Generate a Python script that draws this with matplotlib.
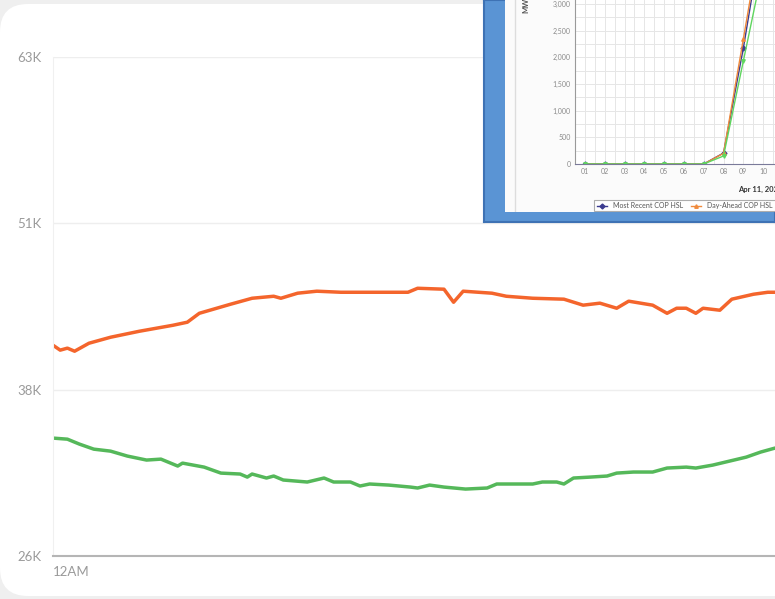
import matplotlib
matplotlib.use("Agg")
import matplotlib.pyplot as plt
from matplotlib.patches import FancyBboxPatch
from matplotlib.transforms import IdentityTransform

# main chart data (minutes after midnight, MW)
orange_min = [0, 3, 6, 9, 15, 24, 36, 50, 56, 61, 74, 83, 92, 95, 102, 110, 120, 133,
              148, 152, 163, 167, 171, 183, 189, 200, 213, 221, 228, 235, 240, 250,
              256, 260, 264, 268, 271, 278, 283, 292, 298, 301]
orange_val = [41590, 41220, 41370, 41140, 41740, 42190, 42640, 43090, 43320, 43990,
              44670, 45120, 45270, 45120, 45500, 45650, 45570, 45570, 45570, 45870,
              45800, 44820, 45650, 45500, 45270, 45120, 45050, 44600, 44750, 44370,
              44900, 44600, 43990, 44370, 44370, 43990, 44370, 44220, 45050, 45420,
              45570, 45570]

green_min = [0, 6, 11, 17, 24, 31, 39, 45, 52, 54, 63, 70, 78, 81, 83, 89, 92, 96, 106,
             113, 117, 124, 128, 132, 140, 149, 152, 157, 163, 172, 181, 185, 200, 204,
             210, 213, 217, 224, 231, 235, 242, 250, 256, 264, 268, 275, 282, 289, 295, 301]
green_val = [34610, 34530, 34160, 33780, 33630, 33260, 32960, 33030, 32510, 32730,
             32430, 31980, 31910, 31680, 31910, 31610, 31760, 31460, 31310, 31610,
             31310, 31310, 31010, 31160, 31080, 30930, 30860, 31080, 30930, 30780,
             30860, 31160, 31160, 31310, 31310, 31160, 31610, 31680, 31760, 31980,
             32060, 32060, 32360, 32430, 32360, 32580, 32880, 33180, 33560, 33860]

y_ticks = [25750, 38250, 50750, 63250]
y_labels = ["26K", "38K", "51K", "63K"]

# pasted screenshot chart data
hours = [1, 2, 3, 4, 5, 6, 7, 8, 9, 10]
hour_labels = ["01", "02", "03", "04", "05", "06", "07", "08", "09", "10"]
cop_hsl = [0, 0, 0, 0, 0, 0, 0, 206, 2170, 4400]
day_ahead = [0, 0, 0, 0, 0, 0, 0, 200, 2340, 4500]
third = [0, 0, 0, 0, 0, 0, 0, 150, 1930, 3700]

W, H = 775, 599
plt.rcParams["font.family"] = ["Lato", "DejaVu Sans"]

fig = plt.figure(figsize=(W / 100, H / 100), dpi=100)
fig.patch.set_facecolor("#efefef")


def px(x0, y0, x1, y1):
    return [x0 / W, 1 - y1 / H, (x1 - x0) / W, (y1 - y0) / H]


# white card with rounded corners
card = FancyBboxPatch((0, 3), 900, 592, boxstyle="round,pad=0,rounding_size=28",
                      transform=IdentityTransform(), facecolor="white",
                      edgecolor="none", zorder=-1)
fig.add_artist(card)

ax = fig.add_axes(px(53, 57, 775, 556))
ax.set_facecolor("none")
ax.plot(orange_min, orange_val, color="#f4652c", lw=2.5, solid_capstyle="round")
ax.plot(green_min, green_val, color="#55b85a", lw=2.5, solid_capstyle="round")
ax.set_xlim(0, 301)
ax.set_ylim(y_ticks[0], y_ticks[-1])
ax.set_yticks(y_ticks)
ax.set_yticklabels(y_labels)
ax.set_xticks([0])
ax.set_xticklabels(["12AM"], ha="left")
ax.tick_params(length=0, colors="#9a9a9a", labelsize=9.5)
ax.tick_params(axis="y", pad=8)
ax.tick_params(axis="x", pad=7)
ax.grid(axis="y", color="#eeeeee", lw=1)
for s in ["top", "right"]:
    ax.spines[s].set_visible(False)
ax.spines["left"].set_color("#f0f0f0")
ax.spines["bottom"].set_color("#b5b5b5")
ax.spines["bottom"].set_linewidth(1.5)

# blue framed screenshot
frame = fig.add_axes(px(484, 0, 775, 222), zorder=3)
frame.set_facecolor("#5a94d4")
frame.set_xticks([])
frame.set_yticks([])
for s in frame.spines.values():
    s.set_color("#3e72b4")
    s.set_linewidth(1.5)

shot = fig.add_axes(px(505, 0, 775, 212), zorder=4)
shot.set_facecolor("#fbfbfb")
shot.set_xticks([])
shot.set_yticks([])
for s in shot.spines.values():
    s.set_visible(False)
shot.axvline(0.037, color="#dddddd", lw=1)

ins = fig.add_axes(px(575, 0, 775, 164), zorder=5)
ins.set_facecolor("white")
ins.plot(hours, cop_hsl, color="#3b3b8f", lw=1, marker="D", ms=2.5, label="Most Recent COP HSL")
ins.plot(hours, day_ahead, color="#f08a3c", lw=1, marker="^", ms=2.5, label="Day-Ahead COP HSL")
ins.plot(hours, third, color="#5fd65f", lw=1, marker="v", ms=2.5, label="STPPF")
ins.set_xlim(0.5, 10.6)
ins.set_ylim(0, 3075)
ins.set_xticks(hours)
ins.set_xticklabels(hour_labels)
ins.set_xticks([h + 0.5 for h in hours], minor=True)
ins.set_yticks([0, 500, 1000, 1500, 2000, 2500, 3000])
ins.set_yticklabels(["0", "500", "1,000", "1,500", "2,000", "2,500", "3,000"])
ins.set_yticks([250, 750, 1250, 1750, 2250, 2750], minor=True)
ins.tick_params(which="both", length=0, colors="#8a8a8a", labelsize=5, pad=3)
ins.grid(which="both", color="#e6e6e6", lw=0.7)
ins.set_ylabel("MW", fontsize=5.5, fontweight="bold", color="#555555", labelpad=12)
ins.yaxis.set_label_coords(-0.23, 0.97)
ins.text(0.815, -0.135, "Apr 11, 2024", transform=ins.transAxes, fontsize=5.5,
         fontweight="bold", color="#333333", va="top")
for s in ["top", "right"]:
    ins.spines[s].set_visible(False)
ins.spines["left"].set_color("#9a9a9a")
ins.spines["bottom"].set_color("#7a7a9a")
leg = ins.legend(loc="upper left", bbox_to_anchor=(0.08, -0.2), ncol=3, fontsize=5,
                 frameon=True, fancybox=False, handlelength=1.5, borderpad=0.3,
                 columnspacing=1.2, labelcolor="#555555")
leg.get_frame().set_edgecolor("#999999")
leg.get_frame().set_linewidth(0.8)

fig.savefig("out.png", dpi=100, facecolor=fig.get_facecolor())
